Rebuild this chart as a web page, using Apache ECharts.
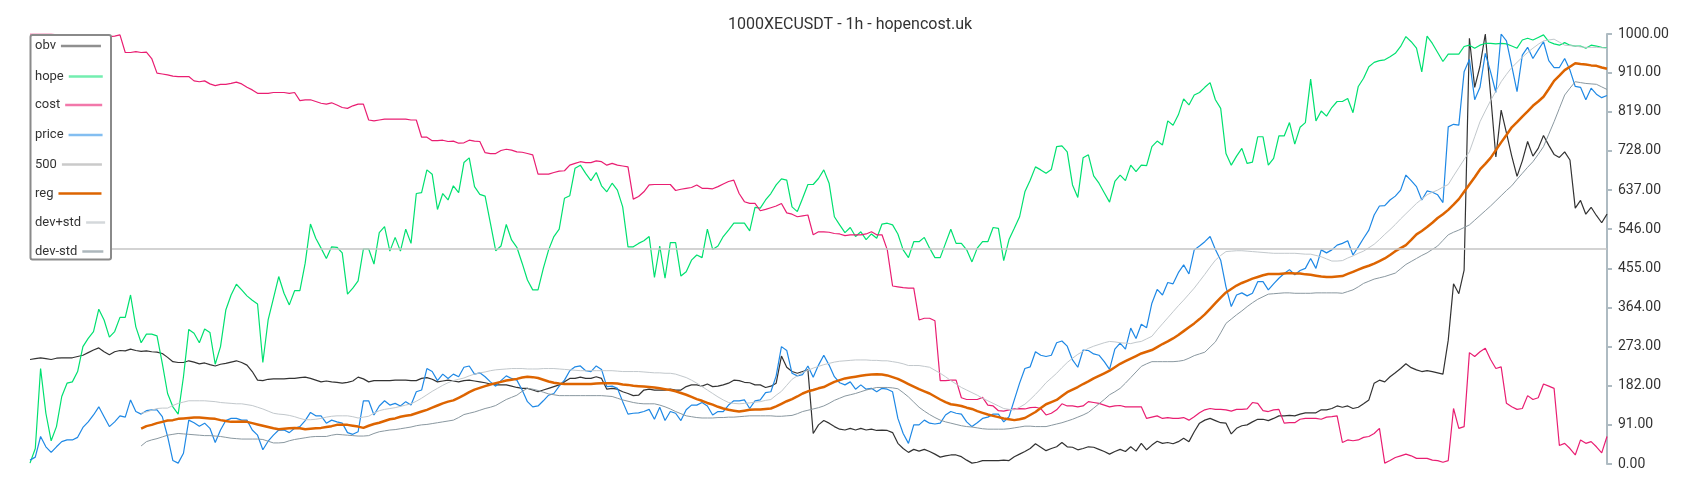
<!DOCTYPE html>
<html><head><meta charset="utf-8">
<script src="https://cdn.jsdelivr.net/npm/echarts@6/dist/echarts.min.js"></script>
<style>html,body{margin:0;padding:0;background:#fff}#c{width:1700px;height:500px}</style>
</head><body><div id="c"></div>
<script>
const N = 299;
const categories = Array.from({length: N}, (_, i) => i);
const titleText = '1000XECUSDT - 1h - hopencost.uk';
const yMin = 0, yMax = 1000, yInterval = 91;
const level500 = 500;
const bandStart = 21;

const obv = [
243,245,247,245,243,246,247,247,247,250,
253,259,265,270,261,254,261,264,263,267,
264,262,263,261,260,257,248,238,236,236,
240,237,233,235,231,228,232,234,237,240,
236,230,215,195,194,197,198,198,198,199,
199,201,202,199,195,191,193,191,190,188,
190,193,202,198,191,194,194,194,194,195,
195,195,194,194,199,201,197,191,193,195,
193,191,194,195,193,191,189,186,184,184,
184,181,178,176,176,172,168,172,176,180,
184,191,199,199,202,199,199,203,199,174,
176,174,168,164,159,160,172,174,172,172,
172,174,172,172,180,184,184,181,186,180,
181,184,188,195,194,190,189,184,184,178,
181,188,251,225,215,211,215,219,71,91,
101,95,87,81,79,83,79,83,79,81,
78,79,78,73,48,36,27,34,30,34,
29,23,16,19,21,21,17,9,2,4,
8,8,8,8,9,8,17,23,29,36,
47,39,31,36,40,50,40,39,33,36,
40,39,34,29,23,29,34,29,40,30,
48,33,44,53,48,50,47,52,60,52,
75,95,102,106,101,96,95,70,83,89,
91,98,104,104,101,106,112,112,113,112,
116,119,119,119,126,126,129,135,132,135,
129,132,140,149,188,195,191,203,212,222,
233,224,219,215,217,215,212,209,288,419,
396,451,990,876,925,1000,860,714,823,770,
716,669,705,750,716,734,764,741,720,713,
726,707,595,613,581,597,578,561,581];

const hope = [
2,36,222,118,54,87,157,188,191,215,
273,292,308,360,335,295,308,341,341,393,
319,282,302,302,298,234,164,133,116,203,
313,304,282,314,306,232,273,358,393,418,
405,391,381,372,236,335,385,436,397,370,
403,403,467,558,525,502,478,505,504,491,
395,409,426,500,500,465,538,552,495,527,
495,546,513,629,631,684,674,592,629,614,
647,631,701,712,645,627,623,560,496,507,
557,521,504,467,428,405,405,455,498,529,
546,618,624,688,695,676,659,678,647,633,
653,637,598,505,505,513,519,529,434,507,
432,515,515,437,447,474,486,480,546,499,
507,529,544,560,560,560,542,597,595,614,
629,649,663,660,598,587,618,650,650,664,
684,653,575,556,538,550,529,540,522,535,
525,558,560,556,535,498,480,517,517,527,
502,480,480,513,546,513,513,498,470,502,
517,517,550,548,473,522,548,575,633,660,
691,684,676,685,738,740,726,649,620,712,
719,670,653,631,609,657,672,659,695,680,
695,694,738,751,742,798,788,812,849,835,
858,864,876,887,847,827,722,695,716,734,
699,702,761,761,695,711,763,763,794,744,
783,794,895,798,821,809,829,843,843,850,
817,878,897,924,934,938,940,947,955,971,
994,982,967,912,995,978,957,936,953,953,
953,971,974,967,974,978,978,977,978,977,
972,967,986,990,986,992,998,982,977,974,
980,974,972,972,967,974,972,969,968];

const cost = [
1000,1000,1000,1000,1000,998,998,998,998,996,
996,996,995,995,995,994,995,998,957,957,
959,957,958,943,909,907,905,902,901,901,
901,891,889,891,884,880,883,883,885,888,
884,876,870,862,862,862,864,864,864,862,
864,845,847,847,843,839,837,840,835,829,
827,833,837,837,800,798,800,802,802,802,
802,802,800,800,760,760,752,752,753,750,
751,746,747,753,751,750,724,722,722,729,
732,730,726,725,722,719,674,674,674,678,
681,682,695,699,703,701,701,705,703,695,
699,695,693,691,616,622,633,649,650,650,
650,650,636,639,641,643,649,641,641,640,
645,651,657,660,629,610,606,606,589,592,
596,600,606,584,581,575,577,579,533,540,
540,539,536,535,531,533,533,533,535,540,
533,533,498,414,412,410,409,409,335,339,
339,333,194,194,195,195,154,150,150,150,
155,137,135,124,123,126,128,129,128,131,
132,129,114,118,126,140,135,135,133,135,
145,143,141,137,133,135,136,133,133,133,
133,106,109,112,106,108,106,106,108,102,
110,119,126,129,127,127,126,123,127,127,
128,143,141,124,122,126,127,95,96,96,
104,106,106,106,104,109,110,112,50,56,
54,56,62,64,71,83,2,8,15,19,
23,19,13,13,13,9,8,4,8,129,
83,87,259,250,261,269,243,222,226,141,
133,127,129,159,150,154,186,181,176,43,
48,36,21,56,48,52,40,26,64];

const price = [
9,16,64,40,27,40,52,56,56,62,
85,98,114,133,110,87,98,112,109,149,
122,116,124,126,126,110,64,8,2,25,
102,96,88,95,83,50,79,101,106,106,
102,102,79,67,33,53,67,79,79,73,
83,87,101,120,112,112,95,102,98,95,
73,69,75,147,147,114,135,147,137,141,
135,145,137,168,172,222,215,194,209,199,
209,203,225,228,209,212,203,191,181,194,
205,199,195,172,145,133,135,147,160,164,
181,195,217,226,228,217,215,228,220,180,
181,176,145,116,118,119,122,127,104,132,
101,122,118,101,126,137,137,143,135,114,
122,122,137,147,147,149,129,147,149,166,
168,205,273,264,211,205,208,228,202,230,
253,230,203,189,184,191,174,184,174,176,
168,176,174,168,106,71,48,91,91,102,
95,93,95,114,122,118,116,98,87,96,
106,109,116,116,98,110,149,188,222,226,
261,253,250,253,282,286,274,242,225,265,
264,256,253,238,220,267,281,267,316,292,
325,317,374,406,393,422,419,445,463,442,
498,507,517,529,499,474,412,366,393,398,
391,397,424,424,405,419,432,443,452,440,
450,455,478,455,498,491,498,509,513,519,
486,505,525,544,579,600,601,614,623,637,
672,659,645,614,635,632,626,608,784,790,
788,912,941,847,876,955,912,864,1000,984,
926,866,951,969,943,963,982,938,922,922,
943,916,878,876,847,874,860,852,857];

// from index bandStart (21) to the end
const reg = [
82,88,91,95,98,101,102,105,106,
107,108,108,107,106,105,102,100,98,98,
99,98,95,92,89,86,83,81,82,83,
84,83,81,82,83,84,86,88,91,91,
91,89,87,84,89,93,96,100,104,106,
110,112,114,118,122,126,131,136,141,145,
148,154,160,167,173,177,181,185,188,191,
194,196,198,201,203,202,200,196,192,189,
187,186,186,186,186,186,186,187,188,188,
188,187,185,184,182,181,180,179,178,176,
174,172,169,165,161,156,151,147,142,138,
133,129,126,124,122,124,126,127,127,128,
129,134,140,146,151,157,164,169,172,176,
179,185,191,195,199,201,203,205,207,208,
209,208,206,202,198,192,186,180,174,169,
164,157,150,144,139,137,135,131,128,123,
119,115,112,109,106,104,102,104,107,114,
121,130,139,144,149,158,167,173,179,186,
192,199,205,211,217,225,233,239,245,251,
257,261,265,272,279,285,292,300,309,318,
327,337,348,361,374,387,399,407,415,421,
426,431,435,439,442,442,442,443,444,443,
443,441,440,438,436,435,435,436,437,442,
447,452,457,461,466,472,478,486,495,502,
509,521,534,542,551,561,572,581,591,603,
616,633,650,667,685,698,712,730,748,765,
783,795,808,820,833,843,854,872,891,903,
916,924,932,930,929,927,926,922,919];

const devPlus = [
118,121,125,129,130,130,136,141,144,
147,147,147,147,146,145,143,142,141,140,
140,138,136,132,128,123,118,116,115,113,
110,106,103,103,104,106,109,111,112,112,
112,110,107,109,111,118,124,127,129,131,
134,137,140,146,153,161,169,176,183,189,
194,197,200,205,209,212,214,217,219,220,
221,222,222,222,221,221,221,222,222,222,
221,220,219,218,217,217,217,217,217,217,
217,216,215,215,215,215,214,213,212,212,
211,211,209,205,201,195,188,180,172,164,
156,149,143,141,140,141,142,144,145,148,
150,160,169,183,197,205,213,218,223,227,
231,234,237,239,240,241,242,242,242,241,
241,240,240,238,236,233,229,229,229,227,
225,218,211,203,194,186,178,172,166,160,
153,147,141,135,129,127,126,132,139,150,
162,175,189,200,211,224,236,246,255,262,
269,274,278,282,285,284,282,281,280,283,
285,291,297,312,326,340,354,368,381,395,
409,425,441,458,474,485,494,495,496,496,
495,494,493,492,491,490,490,490,490,490,
489,488,488,485,482,477,472,472,473,479,
484,490,495,503,511,522,534,545,557,570,
582,594,606,616,626,632,637,644,650,670,
689,708,726,761,796,821,845,867,889,906,
922,934,946,957,967,976,984,986,988,981,
974,973,972,970,969,969,969,968,967];

const devMinus = [
42,52,56,59,63,67,69,71,70,
69,68,67,66,66,65,64,62,60,59,
58,58,58,58,57,53,49,49,50,54,
57,59,61,63,64,64,64,67,69,68,
67,66,65,65,66,71,75,77,79,80,
82,84,86,89,91,92,94,96,98,100,
102,108,115,118,121,125,129,132,136,143,
150,155,160,169,176,174,171,167,163,161,
159,159,159,159,159,159,159,159,159,158,
157,153,149,146,143,141,140,140,140,137,
133,128,122,117,112,110,108,107,107,107,
108,108,109,109,110,111,112,112,112,112,
112,111,111,112,113,117,122,125,128,131,
135,141,148,153,158,161,164,168,172,175,
178,178,178,177,175,166,156,144,132,123,
115,108,102,98,95,92,89,87,86,84,
82,81,81,81,81,82,84,86,88,88,
87,87,87,90,93,96,100,104,109,114,
120,130,140,150,161,168,176,188,201,214,
227,233,238,238,238,238,238,239,241,246,
252,256,260,272,284,305,327,337,347,356,
366,375,383,389,395,396,397,398,398,397,
397,397,397,398,398,398,398,398,397,401,
405,412,420,425,430,433,436,440,444,454,
464,471,478,485,491,499,507,520,533,539,
544,550,556,567,578,589,600,612,624,636,
647,662,676,690,703,720,738,767,796,827,
858,874,889,887,885,884,883,877,871];

const pad = arr => new Array(bandStart).fill(null).concat(arr);

const colors = {
  obv: '#333333', hope: '#00e070', cost: '#e91e72', price: '#1e88e5',
  l500: '#c4c4c4', reg: '#dd6400', devPlus: '#c2c8cc', devMinus: '#8a98a0'
};

function lineSeries(name, data, color, width) {
  return {
    name, type: 'line', data, symbol: 'none', showSymbol: false,
    lineStyle: { color, width }, itemStyle: { color },
    emphasis: { disabled: true }, silent: true, connectNulls: false
  };
}

const series = [
  lineSeries('obv', obv, colors.obv, 1.2),
  lineSeries('hope', hope, colors.hope, 1.2),
  lineSeries('cost', cost, colors.cost, 1.2),
  lineSeries('price', price, colors.price, 1.2),
  {
    name: '500', type: 'line', data: [], symbol: 'none',
    lineStyle: { color: colors.l500, width: 1.5 }, itemStyle: { color: colors.l500 },
    markLine: {
      silent: true, symbol: ['none', 'none'], label: { show: false },
      lineStyle: { color: colors.l500, width: 1.5, type: 'solid' },
      emphasis: { disabled: true },
      data: [{ yAxis: level500 }]
    }
  },
  lineSeries('reg', pad(reg), colors.reg, 2.5),
  lineSeries('dev+std', pad(devPlus), colors.devPlus, 1),
  lineSeries('dev-std', pad(devMinus), colors.devMinus, 1)
];

const legendItems = [
  { name: 'obv', cy: 46, w: 40, op: 0.55 },
  { name: 'hope', cy: 76.5, w: 34, op: 0.55 },
  { name: 'cost', cy: 105, w: 37, op: 0.6 },
  { name: 'price', cy: 135, w: 34, op: 0.55 },
  { name: '500', cy: 164.5, w: 40, op: 0.9 },
  { name: 'reg', cy: 193.5, w: 43, op: 1 },
  { name: 'dev+std', cy: 222.5, w: 19, op: 0.7 },
  { name: 'dev-std', cy: 251.5, w: 21, op: 0.7 }
];

const legends = legendItems.map(it => ({
  data: [{ name: it.name, itemStyle: { opacity: 0 }, lineStyle: { opacity: it.op, width: 2.5 } }],
  left: 35, top: it.cy - 7, orient: 'vertical', align: 'right',
  itemWidth: it.w, itemHeight: 14, itemGap: 5, padding: 0,
  selectedMode: false, z: 120,
  textStyle: { fontSize: 13, color: '#333', fontFamily: 'Roboto', lineHeight: 14 }
}));

const chart = echarts.init(document.getElementById('c'), null, { renderer: 'canvas' });
chart.setOption({
  animation: false,
  backgroundColor: '#fff',
  textStyle: { fontFamily: 'Roboto' },
  title: {
    text: titleText, left: 'center', top: 12,
    textStyle: { fontSize: 16, fontWeight: 'normal', color: '#333', fontFamily: 'Roboto' }
  },
  grid: { left: 30, right: 93, top: 34, bottom: 36 },
  xAxis: { type: 'category', data: categories, boundaryGap: false, show: false },
  yAxis: {
    type: 'value', position: 'right', min: yMin, max: yMax, interval: yInterval,
    axisLine: { show: true, lineStyle: { color: '#aebbc2', width: 2 } },
    axisTick: { show: true, length: 5, lineStyle: { color: '#aebbc2', width: 2 } },
    axisLabel: { formatter: v => v.toFixed(2), fontSize: 14, color: '#333', margin: 11, fontFamily: 'Roboto' },
    splitLine: { show: false }
  },
  legend: legends,
  graphic: [{
    type: 'rect', z: 100,
    shape: { x: 30.5, y: 35, width: 80.5, height: 224.5, r: 2 },
    style: { fill: '#fff', stroke: '#8a8a8a', lineWidth: 2 }
  }],
  series
});
</script>
</body></html>
